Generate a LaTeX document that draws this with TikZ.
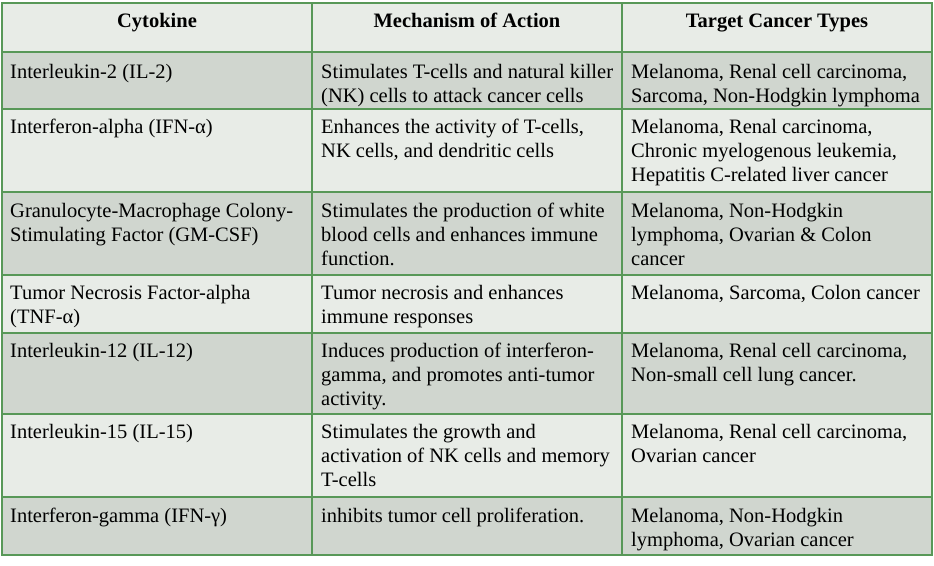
\documentclass[tikz,border=0pt]{standalone}
\usepackage{fontspec}
\setmainfont{Liberation Serif}
\definecolor{celllight}{RGB}{232,236,231}
\definecolor{celldark}{RGB}{208,214,207}
\definecolor{gridgreen}{RGB}{88,152,88}
\newcommand{\cellfont}{\fontsize{20.5}{24.3}\selectfont}
\tikzset{
  celltext/.style={anchor=north west, inner sep=0pt, align=left, font=\cellfont},
  headtext/.style={anchor=base, inner sep=0pt, font=\cellfont\bfseries},
  gridline/.style={draw=gridgreen, line width=1.3pt},
}
\begin{document}
\begin{tikzpicture}[x=1pt,y=-1pt]
\useasboundingbox (0,0) rectangle (934,565);
\fill[white] (0,0) rectangle (934,565);
% row fills
\fill[celllight] (2,3) rectangle (932,52);
\fill[celldark]  (2,52) rectangle (932,109);
\fill[celllight] (2,109) rectangle (932,192);
\fill[celldark]  (2,192) rectangle (932,275);
\fill[celllight] (2,275) rectangle (932,333);
\fill[celldark]  (2,333) rectangle (932,414);
\fill[celllight] (2,414) rectangle (932,497);
\fill[celldark]  (2,497) rectangle (932,555);
% grid
\draw[gridline] (2,3) rectangle (932,555);
\foreach \yy in {52,109,192,275,333,414,497} \draw[gridline] (2,\yy) -- (932,\yy);
\foreach \xx in {312,622} \draw[gridline] (\xx,3) -- (\xx,555);
% header
\node[headtext] (h1) at (157,27) {Cytokine};
\node[headtext] (h2) at (467,27) {Mechanism of Action};
\node[headtext] (h3) at (777,27) {Target Cancer Types};
% row 1 (baseline 78)
\node[celltext] (r1a) at (10,60.9) {\strut Interleukin-2 (IL-2)};
\node[celltext] (r1b) at (321,60.9) {\strut Stimulates T-cells and natural killer\\(NK) cells to attack cancer cells};
\node[celltext] (r1c) at (631,60.9) {\strut Melanoma, Renal cell carcinoma,\\Sarcoma, Non-Hodgkin lymphoma};
% row 2 (baseline 133)
\node[celltext] (r2a) at (10,115.9) {\strut Interferon-alpha (IFN-α)};
\node[celltext] (r2b) at (321,115.9) {\strut Enhances the activity of T-cells,\\NK cells, and dendritic cells};
\node[celltext] (r2c) at (631,115.9) {\strut Melanoma, Renal carcinoma,\\Chronic myelogenous leukemia,\\Hepatitis C-related liver cancer};
% row 3 (baseline 217)
\node[celltext] (r3a) at (10,199.9) {\strut Granulocyte-Macrophage Colony-\\Stimulating Factor (GM-CSF)};
\node[celltext] (r3b) at (321,199.9) {\strut Stimulates the production of white\\blood cells and enhances immune\\function.};
\node[celltext] (r3c) at (631,199.9) {\strut Melanoma, Non-Hodgkin\\lymphoma, Ovarian \& Colon\\cancer};
% row 4 (baseline 299)
\node[celltext] (r4a) at (10,281.9) {\strut Tumor Necrosis Factor-alpha\\(TNF-α)};
\node[celltext] (r4b) at (321,281.9) {\strut Tumor necrosis and enhances\\immune responses};
\node[celltext] (r4c) at (631,281.9) {\strut Melanoma, Sarcoma, Colon cancer};
% row 5 (baseline 357)
\node[celltext] (r5a) at (10,339.9) {\strut Interleukin-12 (IL-12)};
\node[celltext] (r5b) at (321,339.9) {\strut Induces production of interferon-\\gamma, and promotes anti-tumor\\activity.};
\node[celltext] (r5c) at (631,339.9) {\strut Melanoma, Renal cell carcinoma,\\Non-small cell lung cancer.};
% row 6 (baseline 438)
\node[celltext] (r6a) at (10,420.9) {\strut Interleukin-15 (IL-15)};
\node[celltext] (r6b) at (321,420.9) {\strut Stimulates the growth and\\activation of NK cells and memory\\T-cells};
\node[celltext] (r6c) at (631,420.9) {\strut Melanoma, Renal cell carcinoma,\\Ovarian cancer};
% row 7 (baseline 522)
\node[celltext] (r7a) at (10,504.9) {\strut Interferon-gamma (IFN-γ)};
\node[celltext] (r7b) at (321,504.9) {\strut inhibits tumor cell proliferation.};
\node[celltext] (r7c) at (631,504.9) {\strut Melanoma, Non-Hodgkin\\lymphoma, Ovarian cancer};
\end{tikzpicture}
\end{document}
